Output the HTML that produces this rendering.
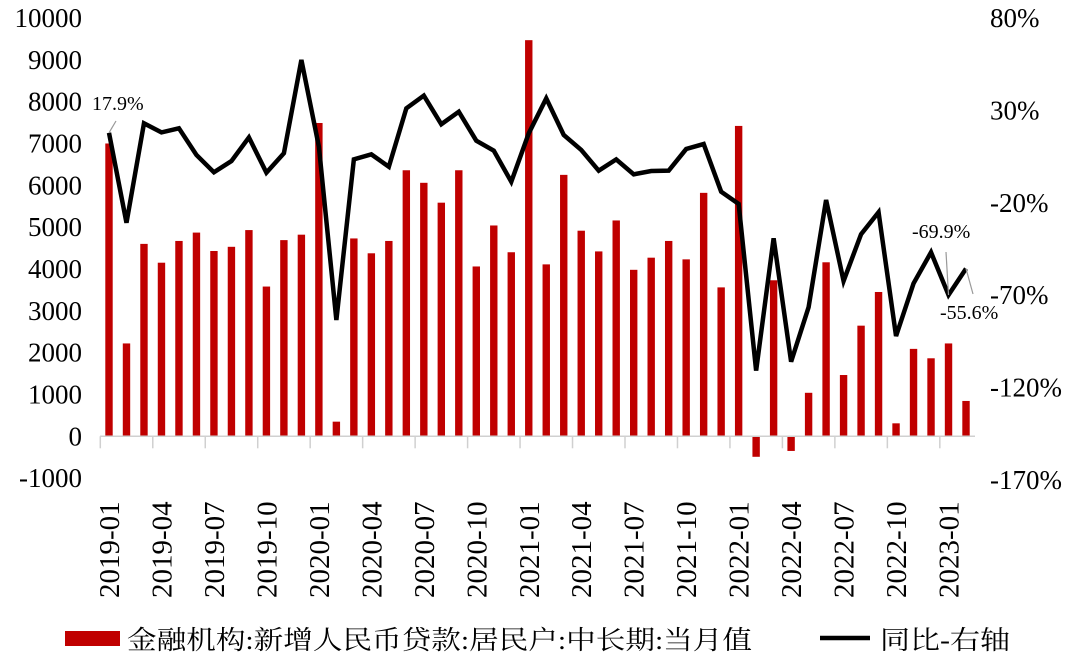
<!DOCTYPE html>
<html><head><meta charset="utf-8"><style>
body{margin:0;background:#fff;width:1080px;height:656px;overflow:hidden}
svg{display:block}
text{font-family:"Liberation Serif","Noto Serif CJK SC",serif;fill:#000}
</style></head><body>
<svg id="chart" width="1080" height="656"></svg>
<script>
const categories=[];
for(let y=2019;y<=2023;y++)for(let m=1;m<=12;m++){if(y===2023&&m>2)break;categories.push(y+'-'+String(m).padStart(2,'0'));}
const loanValues=[7000,2220,4600,4150,4670,4870,4430,4530,4930,3580,4690,4820,7490,350,4730,4375,4670,6360,6060,5585,6360,4060,5040,4400,9470,4110,6250,4915,4420,5160,3980,4270,4670,4230,5820,3560,7420,-490,3730,-350,1040,4160,1465,2645,3450,310,2090,1865,2220,845];
const yoyValues=[17.9,-30.8,23.0,18.1,20.3,5.9,-3.5,2.6,15.4,-3.7,6.8,57.3,10.4,-83.4,3.5,6.2,-0.5,31.1,38.0,22.5,29.3,13.6,8.2,-8.6,17.6,36.5,16.7,8.6,-2.6,3.5,-4.6,-2.8,-2.6,9.1,11.8,-14.0,-20.6,-110.8,-39.2,-106,-76.5,-18.5,-62.3,-37.0,-25.1,-92.1,-63.6,-46.8,-69.9,-55.6];
const leftTicks=[10000,9000,8000,7000,6000,5000,4000,3000,2000,1000,0,-1000];
const rightTicks=[80,30,-20,-70,-120,-170];
const annotations=[{i:0,label:'17.9%',tx:92,ty:110,lx:116,ly:121},{i:48,label:'-69.9%',tx:912,ty:238,lx:946,ly:252},{i:49,label:'-55.6%',tx:940,ty:319,lx:973,ly:294}];

const svg=document.getElementById('chart');const NS='http://www.w3.org/2000/svg';
function mk(t,a,p){const e=document.createElementNS(NS,t);for(const k in a)e.setAttribute(k,a[k]);(p||svg).appendChild(e);return e;}
const xS=i=>109+i*17.49;
const yL=v=>436.3-v*0.04183;
const yR=v=>18+(80-v)*1.848;

leftTicks.forEach(v=>{const t=mk('text',{x:82,y:yL(v)+9,'text-anchor':'end','font-size':27});t.textContent=v;

});
rightTicks.forEach(v=>{const t=mk('text',{x:990,y:yR(v)+9,'font-size':27});t.textContent=v+'%';

});

loanValues.forEach((v,i)=>{const y0=yL(0),y1=yL(v);const r=mk('rect',{x:xS(i)-3.7,y:Math.min(y0,y1),width:7.4,height:Math.abs(y0-y1),fill:'#c00000'});

});

const ax=mk('line',{x1:100,x2:975,y1:yL(0),y2:yL(0),stroke:'#d0d0d0','stroke-width':1.5});


for(let i=0;i<=categories.length;i+=3){const tk=mk('line',{x1:xS(i)-8.7,x2:xS(i)-8.7,y1:yL(0),y2:yL(0)+12,stroke:'#d0d0d0','stroke-width':1.5});

}
categories.forEach((c,i)=>{if(i%3)return;const t=mk('text',{transform:'translate('+(xS(i)+10)+',598) rotate(-90)','text-anchor':'start','font-size':29});t.textContent=c;

});

const pl=mk('polyline',{points:yoyValues.map((v,i)=>xS(i)+','+yR(v)).join(' '),fill:'none',stroke:'#000','stroke-width':4.5,'stroke-linejoin':'miter'});



annotations.forEach(a=>{const l=mk('line',{x1:xS(a.i),y1:yR(yoyValues[a.i]),x2:a.lx,y2:a.ly,stroke:'#999','stroke-width':1.2});


const t=mk('text',{x:a.tx,y:a.ty,'font-size':20,fill:'#333'});t.textContent=a.label;

});

const g=mk('g',{});
const lr=mk('rect',{x:65,y:631,width:55,height:15,fill:'#c00000'},g);


const lt=mk('text',{x:127,y:649,'font-size':26,textLength:625,lengthAdjust:'spacingAndGlyphs'},g);lt.textContent='金融机构:新增人民币贷款:居民户:中长期:当月值';


const ll=mk('line',{x1:820,x2:870,y1:638,y2:638,stroke:'#000','stroke-width':4.5},g);


const lt2=mk('text',{x:880,y:649,'font-size':26,textLength:130,lengthAdjust:'spacingAndGlyphs'},g);lt2.textContent='同比-右轴';


</script>
</body></html>
